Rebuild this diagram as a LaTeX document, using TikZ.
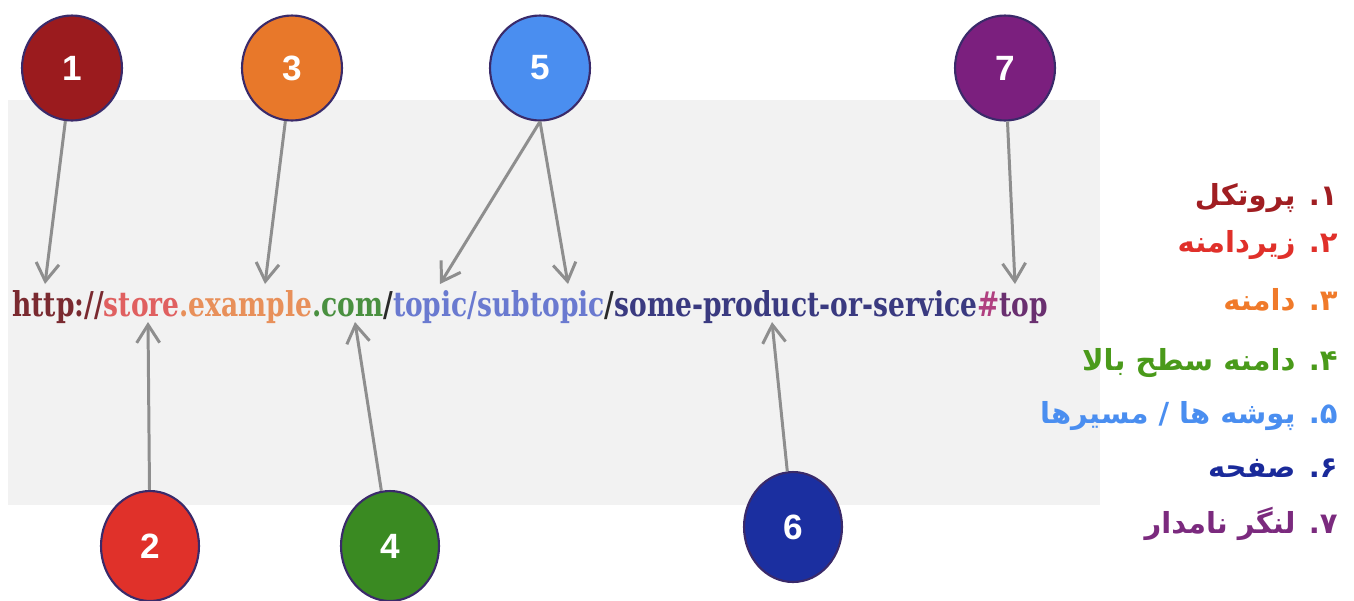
\documentclass[tikz,border=0pt]{standalone}
\usepackage{fontspec}
\setmainfont{DejaVu Serif}
\newfontfamily\numfont{Liberation Sans}
\newfontfamily\fa[Script=Arabic]{DejaVu Sans}
\TeXXeTstate=1
\usetikzlibrary{shapes.geometric,arrows.meta}
\definecolor{bggray}{HTML}{F2F2F2}
\definecolor{arrgray}{HTML}{8E8E8E}
\definecolor{rimc}{HTML}{3A2A6A}
\definecolor{cone}{HTML}{9B1B1E}
\definecolor{ctwo}{HTML}{E0312A}
\definecolor{cthree}{HTML}{E8782A}
\definecolor{cfour}{HTML}{3A8A22}
\definecolor{cfive}{HTML}{4A8EF0}
\definecolor{csix}{HTML}{1B2FA0}
\definecolor{cseven}{HTML}{7B1F7E}
\definecolor{uhttp}{HTML}{7A2A30}
\definecolor{ustore}{HTML}{E06060}
\definecolor{uexample}{HTML}{E8905A}
\definecolor{ucom}{HTML}{4A9040}
\definecolor{uslash}{HTML}{2A2A2A}
\definecolor{utopic}{HTML}{6A7AD0}
\definecolor{uprod}{HTML}{3A3A80}
\definecolor{uhash}{HTML}{B04080}
\definecolor{utop}{HTML}{6A3070}
\definecolor{lone}{HTML}{A01E22}
\definecolor{ltwo}{HTML}{E0302A}
\definecolor{lthree}{HTML}{F07A2A}
\definecolor{lfour}{HTML}{4A9A1A}
\definecolor{lfive}{HTML}{4A8EF0}
\definecolor{lsix}{HTML}{1A2A9A}
\definecolor{lseven}{HTML}{7B2A7E}
\tikzset{
  badge/.style={ellipse, draw=rimc, line width=1.2pt, inner sep=0pt,
    minimum width=2cm, minimum height=2.1cm, text=white,
    font=\numfont\bfseries\fontsize{20}{20}\selectfont},
  badgelow/.style={badge, minimum width=1.96cm, minimum height=2.2cm},
  pointer/.style={draw=arrgray, line width=1.7pt,
    -{Straight Barb[length=0.36cm,width=0.46cm]}},
  legend/.style={anchor=base east, inner sep=0pt,
    font=\fa\bfseries\fontsize{16.5}{16.5}\selectfont}
}
\begin{document}
\begin{tikzpicture}[x=0.02cm,y=-0.02cm]
\useasboundingbox (0,0) rectangle (1354,600);
\fill[bggray] (8,100) rectangle (1100,505);
% badges
\node[badge, fill=cone] (c1) at (72,68) {1};
\node[badge, fill=cthree] (c3) at (292,68) {3};
\node[badge, fill=cfive] (c5) at (540,68) {5};
\node[badge, fill=cseven] (c7) at (1005,68) {7};
\node[badgelow, fill=ctwo] (c2) at (150,546) {2};
\node[badgelow, fill=cfour] (c4) at (390,546) {4};
\node[badgelow, fill=csix] (c6) at (793,527) {6};
% URL
\node[anchor=base west, inner sep=0pt] (url) at (12,316) {\resizebox{20.72cm}{0.52cm}{\bfseries
\textcolor{uhttp}{http://}\textcolor{ustore}{store}\textcolor{uexample}{.example}\textcolor{ucom}{.com}\textcolor{uslash}{/}\textcolor{utopic}{topic/subtopic}\textcolor{uslash}{/}\textcolor{uprod}{some-product-or-service}\textcolor{uhash}{\#}\textcolor{utop}{top}}};
% targets
\coordinate (t1) at (45,284);
\coordinate (t3) at (265,284);
\coordinate (t5a) at (440,284);
\coordinate (t5b) at (568,284);
\coordinate (t7) at (1015,284);
\coordinate (t2) at (148,322);
\coordinate (t4) at (355,322);
\coordinate (t6) at (772,322);
% pointers
\draw[pointer] (c1) -- (t1);
\draw[pointer] (c3) -- (t3);
\draw[pointer] (c5.south) -- (t5a);
\draw[pointer] (c5.south) -- (t5b);
\draw[pointer] (c7) -- (t7);
\draw[pointer] (c2) -- (t2);
\draw[pointer] (c4) -- (t4);
\draw[pointer] (c6) -- (t6);
% legend
\node[legend, text=lone] (l1) at (1338,205) {\beginR ۱. پروتکل\endR};
\node[legend, text=ltwo] (l2) at (1338,252) {\beginR ۲. زیردامنه\endR};
\node[legend, text=lthree] (l3) at (1338,310) {\beginR ۳. دامنه\endR};
\node[legend, text=lfour] (l4) at (1338,370) {\beginR ۴. دامنه سطح بالا\endR};
\node[legend, text=lfive] (l5) at (1338,423) {\beginR ۵. پوشه ها / مسیرها\endR};
\node[legend, text=lsix] (l6) at (1338,477) {\beginR ۶. صفحه\endR};
\node[legend, text=lseven] (l7) at (1338,533) {\beginR ۷. لنگر نامدار\endR};
\end{tikzpicture}
\end{document}
